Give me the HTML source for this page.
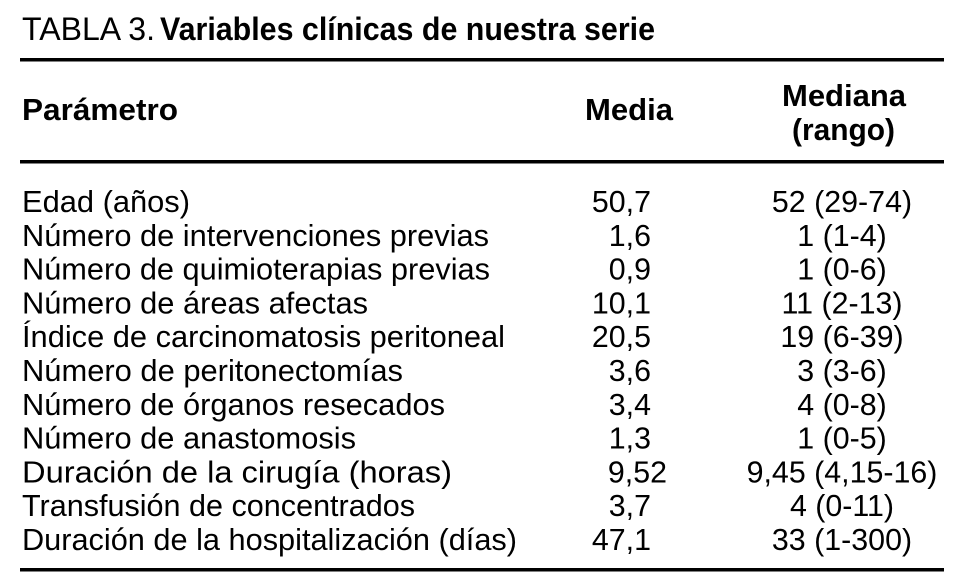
<!DOCTYPE html>
<html><head><meta charset="utf-8"><style>
html,body{margin:0;padding:0;background:#fff;}
svg{display:block;font-family:"Liberation Sans",Arial,sans-serif;}
</style></head><body>
<svg id="tbl" width="958" height="584" viewBox="0 0 958 584" xmlns="http://www.w3.org/2000/svg">
<text x="22" y="40" font-size="32"><tspan textLength="133" lengthAdjust="spacingAndGlyphs">TABLA 3.</tspan><tspan x="160" font-weight="bold" textLength="495" lengthAdjust="spacingAndGlyphs">Variables clínicas de nuestra serie</tspan></text>
<rect x="20" y="58" width="924" height="3.5" fill="#000"/>
<text x="22" y="120" font-size="31" font-weight="bold" textLength="156" lengthAdjust="spacingAndGlyphs">Parámetro</text>
<text x="585" y="120" font-size="31" font-weight="bold" textLength="88" lengthAdjust="spacingAndGlyphs">Media</text>
<text x="782" y="106" font-size="31" font-weight="bold" textLength="124" lengthAdjust="spacingAndGlyphs">Mediana</text>
<text x="792" y="140" font-size="31" font-weight="bold" textLength="103" lengthAdjust="spacingAndGlyphs">(rango)</text>
<rect x="20" y="160" width="924" height="3.5" fill="#000"/>
<rect x="20" y="568" width="924" height="3.5" fill="#000"/>
<g id="rows"></g>
</svg>
<script>
const params = ["Edad (años)","Número de intervenciones previas","Número de quimioterapias previas","Número de áreas afectas","Índice de carcinomatosis peritoneal","Número de peritonectomías","Número de órganos resecados","Número de anastomosis","Duración de la cirugía (horas)","Transfusión de concentrados","Duración de la hospitalización (días)"];
const labelWidths = [168,467,468,346,483,381,423,334,430,393,495];
const medias = ["50,7","1,6","0,9","10,1","20,5","3,6","3,4","1,3","9,52","3,7","47,1"];
const medianas = ["52 (29-74)","1 (1-4)","1 (0-6)","11 (2-13)","19 (6-39)","3 (3-6)","4 (0-8)","1 (0-5)","9,45 (4,15-16)","4 (0-11)","33 (1-300)"];
const NS="http://www.w3.org/2000/svg";
const g=document.getElementById('rows');
function mk(x,y,t,anchor){const e=document.createElementNS(NS,'text');e.setAttribute('x',x);e.setAttribute('y',y);e.setAttribute('font-size','31');if(anchor)e.setAttribute('text-anchor',anchor);e.textContent=t;return e;}
function stretch(e,f){g.appendChild(e);const w=e.getComputedTextLength();e.setAttribute('textLength',(w*f).toFixed(1));e.setAttribute('lengthAdjust','spacingAndGlyphs');}
params.forEach((p,i)=>{
  const y=212+i*33.8;
  const a=mk(22,y,p);
  a.setAttribute('textLength',labelWidths[i]);a.setAttribute('lengthAdjust','spacingAndGlyphs');
  
  
  g.appendChild(a);
  const m=medias[i];
  const ci=m.indexOf(',');
  const b=mk(651+(m.length-ci-2)*16,y,m,'end');
  
  
  stretch(b,0.98);
  const c=mk(842,y,medianas[i],'middle');
  
  
  stretch(c,0.98);
});
</script>
</body></html>
